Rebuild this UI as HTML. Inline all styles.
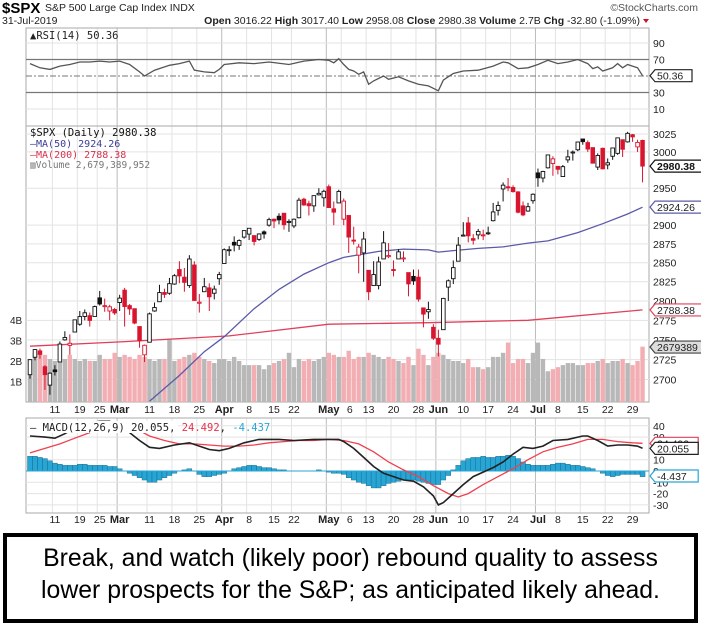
<!DOCTYPE html>
<html><head><meta charset="utf-8"><style>
body{margin:0;background:#fff;width:701px;height:619px;overflow:hidden;font-family:"Liberation Sans",sans-serif}
svg{position:absolute;left:0;top:0}
#note{position:absolute;left:3px;top:533px;width:687px;height:76px;border:4px solid #000;font-size:24.8px;line-height:32px;text-align:center;padding-top:6px;box-sizing:content-box;color:#000}
</style></head><body>
<svg id="chart" width="701" height="619"></svg>
<div id="note">Break, and watch (likely poor) rebound quality to assess<br>lower prospects for the S&amp;P; as anticipated likely ahead.</div>
<script>
const closes=[2724.9,2737.7,2731.6,2706.1,2707.9,2709.8,2744.7,2753.0,2745.7,2775.6,2779.8,2784.7,2774.9,2792.7,2796.1,2793.9,2792.4,2784.5,
2803.7,2792.8,2789.7,2771.5,2748.9,2743.1,2783.3,2791.5,2810.9,2808.5,2822.5,2832.9,2832.6,2824.2,2854.9,2800.7,2798.4,2818.5,2805.4,2815.4,2834.4,
2867.2,2867.2,2873.4,2879.4,2892.7,2895.8,2878.2,2888.2,2888.3,2907.4,2905.6,2907.1,2900.5,2905.0,2908.0,2933.7,2927.3,2926.2,2939.9,2943.0,2945.8,
2923.7,2917.5,2945.6,2932.5,2884.1,2879.4,2870.7,2881.4,2811.9,2834.4,2851.0,2876.3,2859.5,2840.2,2864.4,2856.3,2822.2,2826.1,2802.4,2783.0,2788.9,2752.1,
2744.5,2803.3,2826.2,2843.5,2873.3,2886.7,2885.7,2879.8,2891.6,2887.0,2889.7,2917.8,2926.5,2954.2,2950.5,2945.4,2917.4,2913.8,2924.9,2941.8,
2964.3,2973.0,2995.8,2990.4,2976.0,2979.6,2993.1,2999.9,3013.8,3014.3,3004.0,2984.4,2995.1,2976.6,2985.0,3005.5,3019.6,3003.7,3025.9,3021.0,3013.2,2980.4];
const opens=[2706,2728,2736,2716,2693,2712,2722,2750,2743,2760,2770,2780,2781,2780,2804,2793,2787,2789,
2798,2814,2794,2790,2767,2731,2747,2787,2799,2811,2810,2822,2841,2831,2820,2847,2797,2812,2817,2810,2829,
2849,2867,2877,2873,2884,2888,2886,2881,2891,2900,2908,2912,2916,2904,2899,2910,2935,2929,2926,2941,2937,
2952,2922,2930,2908,2913,2880,2860,2863,2840,2820,2820,2855,2858,2841,2855,2856,2837,2832,2831,2791,2786,2766,
2752,2763,2818,2829,2852,2886,2903,2882,2887,2886,2889,2906,2920,2949,2952,2951,2945,2926,2919,2933,
2971,2964,2978,2984,2980,2966,2989,2999,3003,3018,3013,3006,2979,3005,2982,2994,2998,3017,3014,3024,3007,3016];
const highs=[2725,2738,2739,2718,2709,2718,2748,2761,2757,2775,2787,2789,2785,2794,2813,2803,2795,2791,
2808,2817,2796,2790,2767,2744,2785,2798,2821,2816,2830,2835,2852,2843,2860,2852,2809,2830,2823,2820,2838,
2869,2872,2885,2881,2893,2896,2886,2889,2893,2910,2909,2916,2916,2908,2909,2937,2937,2933,2940,2950,2948,
2955,2932,2948,2936,2913,2898,2875,2891,2840,2852,2858,2892,2876,2853,2868,2865,2837,2841,2841,2791,2799,2770,
2763,2804,2828,2853,2884,2904,2911,2888,2895,2894,2898,2930,2932,2958,2964,2954,2946,2932,2930,2943,
2977,2974,2996,2994,2980,2982,3003,3002,3014,3018,3016,3006,2998,3006,2991,3005,3019,3017,3028,3025,3017,3017];
const lows=[2701,2724,2726,2687,2681,2705,2722,2749,2731,2760,2768,2775,2767,2780,2794,2786,2775,2782,
2787,2767,2782,2770,2740,2722,2747,2786,2799,2804,2808,2821,2823,2812,2817,2800,2785,2812,2787,2802,2821,
2849,2859,2865,2867,2882,2880,2873,2879,2882,2898,2896,2901,2894,2891,2896,2909,2926,2913,2918,2940,2925,
2924,2900,2930,2900,2863,2874,2836,2825,2801,2820,2815,2855,2856,2832,2855,2851,2806,2821,2799,2766,2777,2750,
2729,2763,2800,2822,2852,2885,2877,2874,2881,2880,2887,2905,2913,2932,2946,2944,2916,2912,2918,2929,
2952,2958,2977,2967,2969,2966,2985,2988,3001,3010,3000,2984,2975,2976,2976,2989,2996,2993,3013,3014,3000,2958];
const volumes=[2.1,2.4,2.4,2.3,2.1,2.0,2.1,2.1,2.3,2.1,2.0,2.1,2.0,2.0,2.3,2.1,2.1,2.4,
2.2,2.3,2.2,2.1,2.3,2.2,2.1,2.0,2.1,2.1,3.1,2.0,2.1,2.2,2.3,2.4,2.2,2.1,2.0,1.9,2.1,
2.1,2.0,2.2,2.0,1.8,1.8,1.8,1.8,1.6,1.8,1.9,2.0,2.1,2.4,1.7,2.1,2.0,2.1,2.0,2.1,2.2,
2.4,2.3,2.2,2.2,2.5,2.1,2.2,2.2,2.4,2.3,2.2,2.1,2.2,2.1,2.0,1.9,2.2,1.8,2.6,2.3,1.8,2.2,
2.4,2.3,2.1,2.0,2.0,1.9,2.1,1.7,1.7,1.6,1.7,2.2,2.2,2.4,2.9,1.9,2.1,2.1,1.9,2.4,
2.9,2.1,1.5,1.6,1.7,1.8,1.9,1.9,1.8,1.8,1.9,1.9,2.0,2.1,1.9,2.0,2.0,2.1,1.9,1.8,2.0,2.7];
const ma50Idx=[24,30,35,39,45,50,55,60,63,70,75,80,82,85,90,95,100,104,110,115,120,123];
const ma50Val=[2673,2705,2735,2754,2790,2815,2835,2850,2857,2865,2868,2867,2864,2866,2869,2871,2876,2879,2890,2902,2915,2924.26];
const ma200Idx=[0,20,40,60,80,100,123];
const ma200Val=[2742,2748,2755,2770,2772,2775,2788.38];
const rsiIdx=[0,2,4,6,8,10,12,14,16,18,20,22,23,25,28,30,32,33,35,37,38,39,42,45,48,52,55,58,60,61,62,63,64,65,66,67,68,69,71,72,74,76,78,80,82,83,85,87,90,93,95,96,98,100,102,104,106,108,110,112,113,114,115,117,118,119,120,122,123];
const rsiVal=[65,60,58,62,64,67,67,68,67,68,64,55,50,57,63,65,68,57,55,54,58,64,66,65,67,64,68,70,69,66,71,64,58,56,52,55,40,44,50,46,49,44,40,38,32,45,53,56,57,62,67,66,59,60,64,69,65,67,70,65,59,61,56,60,65,60,64,60,50.36];
const macdIdx=[0,3,5,7,9,11,14,16,18,20,22,24,26,29,32,34,36,38,40,43,46,50,53,57,60,62,63,65,67,69,71,73,75,77,79,81,82,83,85,87,89,91,93,95,97,99,101,103,105,108,111,112,114,116,118,120,122,123];
const macdVal=[31,30,29,33,38,42,44,44,40,34,27,21,20,23,25,22,19,18,20,25,28,28,27,28,28,28,26,20,12,4,-2,-5,-8,-9,-14,-22,-30,-28,-20,-12,-5,-1,3,8,15,21,20,22,27,28,31,31,27,22,23,23,22,20.055];
const sigIdx=[0,3,6,9,12,15,18,21,24,27,30,33,36,39,42,45,48,51,54,57,60,63,66,69,72,75,78,81,84,86,88,91,94,97,100,103,106,109,112,115,118,121,123];
const sigVal=[16,20,24,29,34,38,40,38,31,27,24,24,23,22,22,23,25,26,27,27,28,27,24,17,8,1,-5,-13,-20,-23,-20,-12,-5,2,10,17,21,24,28,28,26,25,24.492];
const histVal=[13,13,12,11,9,7,6,5,5,5,6,6,5,5,5,5,4,4,
2,0,-2,-4,-6,-8,-10,-10,-8,-6,-4,-2,0,1,2,0,-3,-5,-5,-4,-3,
-2,0,2,3,4,5,5,4,3,3,2,1,1,0,0,0,0,0,0,1,0,
-1,-2,-2,-3,-6,-8,-10,-11,-13,-15,-15,-13,-11,-10,-9,-8,-8,-8,-9,-10,-11,-12,
-12,-8,-4,1,5,9,11,12,12,13,12,12,13,13,14,13,11,8,6,5,
5,5,5,6,7,7,6,5,5,4,3,2,0,-2,-4,-5,-4,-3,-3,-3,-3,-5];
const dateLabels=["11","19","25","Mar","11","18","25","Apr","8","15","22","May","6","13","20","28","Jun","10","17","24","Jul","8","15","22","29"];
const dateIdx=[5,10,14,18,24,29,34,39,44,49,53,60,63,68,73,78,82,87,92,97,102,106,111,116,121];
const priceTicks=[3025,3000,2950,2900,2875,2850,2825,2800,2775,2750,2725,2700];
const volTicks=[1,2,3,4];
const rsiTicks=[90,70,30,10];
const macdTicks=[40,30,10,0,-10,-20,-30];

const NS="http://www.w3.org/2000/svg";
const svg=document.getElementById('chart');
function mk(tag,attrs,parent){const e=document.createElementNS(NS,tag);for(const k in attrs)e.setAttribute(k,attrs[k]);(parent||svg).appendChild(e);return e;}
const L=26,R=649;
const X=i=>30+i*4.98;
const PY=p=>134+Math.log(3025/p)*2160;
const VY=v=>402-v*20.5;
const RY=v=>43+(90-v)*0.825;
const MY=v=>471-v*1.13;
const mono='"DejaVu Sans Mono","Liberation Mono",monospace';

function txt(x,y,s,opt,name){const t=mk('text',Object.assign({x:x,y:y,'font-size':10,fill:'#222','font-family':'"Liberation Sans",sans-serif'},opt||{}));t.textContent=s;


return t;}

let t=txt(2,13,'$SPX',{'font-size':15,'font-weight':'bold',fill:'#000'},'ticker-symbol');
t=txt(45,11,'S&P 500 Large Cap Index  INDX',{'font-size':10.5},'index-name');
t=txt(698,11,'©StockCharts.com',{'font-size':10.5,'text-anchor':'end',fill:'#555'},'source-credit');
t=txt(2,24,'31-Jul-2019',{'font-size':10.5},'chart-date');
const hdr=mk('text',{x:640,y:24,'font-size':10.5,'text-anchor':'end',fill:'#222'});


hdr.innerHTML='<tspan font-weight="bold">Open</tspan> 3016.22 <tspan font-weight="bold">High</tspan> 3017.40 <tspan font-weight="bold">Low</tspan> 2958.08 <tspan font-weight="bold">Close</tspan> 2980.38 <tspan font-weight="bold">Volume</tspan> 2.7B <tspan font-weight="bold">Chg</tspan> -32.80 (-1.09%)';
const tri=mk('polygon',{points:'643,19 649,19 646,23',fill:'#d0102a'});



function panel(y0,y1,name){const g=mk('g',{});


dateIdx.forEach((d,k)=>{const big=isNaN(+dateLabels[k]);const ln=mk('line',{x1:X(d)-2.5,x2:X(d)-2.5,y1:y0,y2:y1,stroke:big?'#bbb':'#e3e3e3','stroke-width':1},g);

});
const r=mk('rect',{x:L,y:y0,width:R-L,height:y1-y0,fill:'none',stroke:'#aaa'},g);


return g;}
function hgrid(g,y,col){const ln=mk('line',{x1:L,x2:R,y1:y,y2:y,stroke:col||'#e3e3e3'},g);

}
function poly(g,idx,vals,fy,col,w,name){const p=mk('polyline',{points:idx.map((i,k)=>X(i)+','+fy(vals[k]).toFixed(1)).join(' '),fill:'none',stroke:col,'stroke-width':w||1.3},g);

return p;}
function tag(y,s,col,bg,fg,name,bold){const g=mk('g',{});


const w=s.length*6.2+6;
mk('path',{d:`M${R+1},${y} L${R+6},${y-6} H${R+6+w} V${y+6} H${R+6} Z`,fill:bg||'#fff',stroke:col,'stroke-width':1.2},g);
const tt=mk('text',{x:R+8,y:y+4,'font-size':10.5,fill:fg||'#222','font-weight':bold?'bold':'normal','font-family':'"Liberation Sans",sans-serif'},g);tt.textContent=s;}

const gR=panel(28,126,'rsi-panel');
[90,10].forEach(v=>hgrid(gR,RY(v)));
rsiTicks.forEach(v=>txt(653,RY(v)+4,String(v),{'font-size':10.5},'rsi-tick'));
[70,30].forEach(v=>{const ln=mk('line',{x1:L,x2:R,y1:RY(v),y2:RY(v),stroke:'#777','stroke-width':1.2},gR);

});
const mid=mk('line',{x1:L,x2:R,y1:RY(50),y2:RY(50),stroke:'#777','stroke-dasharray':'6,2,2,2'},gR);


poly(gR,rsiIdx,rsiVal,RY,'#555',1.3,'rsi-line');
txt(30,39,'▲RSI(14) 50.36',{'font-size':10.5,'font-family':mono},'rsi-legend');
tag(RY(50.36),'50.36','#222',null,null,'rsi-value-tag');

const gM=panel(126,402,'price-panel');
priceTicks.forEach(p=>{hgrid(gM,PY(p));txt(653,PY(p)+4,String(p),{'font-size':10.5},'price-tick');});
volumes.forEach((v,i)=>{const down=i>0&&closes[i]<closes[i-1];const b=mk('rect',{x:X(i)-2.2,y:VY(v),width:4.4,height:402-VY(v),fill:down?'#f2aeb2':'#b8b8b8'},gM);

});
volTicks.forEach(v=>txt(10,VY(v)+4,v+'B',{'font-size':10},'volume-tick'));
const clip=mk('clipPath',{id:'mc'});mk('rect',{x:L,y:126,width:R-L,height:276},clip);
poly(gM,ma200Idx,ma200Val,PY,'#e0405a',1.3,'ma200-line').setAttribute('clip-path','url(#mc)');
poly(gM,ma50Idx,ma50Val,PY,'#5a5aa8',1.3,'ma50-line').setAttribute('clip-path','url(#mc)');
closes.forEach((c,i)=>{const o=opens[i];const down=i>0&&c<closes[i-1];const col=down?'#d9152e':'#111';
const g=mk('g',{},gM);


mk('line',{x1:X(i),x2:X(i),y1:PY(highs[i]),y2:PY(lows[i]),stroke:col,'stroke-width':1},g);
const top=PY(Math.max(o,c)),bot=PY(Math.min(o,c));
mk('rect',{x:X(i)-1.8,y:top,width:3.6,height:Math.max(1,bot-top),fill:c<o?col:'#fff',stroke:col,'stroke-width':0.9},g);});
txt(30,136,'$SPX (Daily) 2980.38',{'font-size':10.5,'font-family':mono,fill:'#111'},'price-legend');
txt(30,147,'—MA(50) 2924.26',{'font-size':10,'font-family':mono,fill:'#3b3b9a'},'ma50-legend');
txt(30,158,'—MA(200) 2788.38',{'font-size':10,'font-family':mono,fill:'#d8304f'},'ma200-legend');
txt(30,168,'▥Volume 2,679,389,952',{'font-size':9.5,'font-family':mono,fill:'#777'},'volume-legend');
tag(PY(2980.38),'2980.38','#111',null,'#111','close-price-tag',true);
tag(PY(2924.26),'2924.26','#5a5aa8',null,null,'ma50-tag');
tag(PY(2788.38),'2788.38','#e0405a',null,null,'ma200-tag');
tag(VY(2.68),'2679389','#444','#ddd',null,'volume-tag');

function dates(y,name){dateIdx.forEach((d,k)=>{const s=dateLabels[k];const big=isNaN(+s);txt(X(d)+(s==='6'?6:0),y,s,{'font-size':big?11:10.5,'font-weight':big?'bold':'normal','text-anchor':'middle',fill:'#222'},name);});}
dates(413,'date-label');

const gD=panel(418,513,'macd-panel');
macdTicks.forEach(v=>{hgrid(gD,MY(v));txt(653,MY(v)+4,String(v),{'font-size':10.5},'macd-tick');});
histVal.forEach((v,i)=>{const b=mk('rect',{x:X(i)-2.5,y:Math.min(MY(v),MY(0)),width:5,height:Math.abs(MY(v)-MY(0)),fill:'#27a6d6',stroke:'#17607e','stroke-width':0.4},gD);

});
const z=mk('line',{x1:L,x2:R,y1:MY(0),y2:MY(0),stroke:'#27a6d6'},gD);


const clip2=mk('clipPath',{id:'dc'});mk('rect',{x:L,y:418,width:R-L,height:95},clip2);
poly(gD,sigIdx,sigVal,MY,'#f04050',1.3,'macd-signal-line').setAttribute('clip-path','url(#dc)');
poly(gD,macdIdx,macdVal,MY,'#222',1.6,'macd-line').setAttribute('clip-path','url(#dc)');
const ml=mk('rect',{x:28,y:421,width:150,height:12,fill:'#fff'},gD);


const mt=mk('text',{x:30,y:431,'font-size':10.5,'font-family':mono,fill:'#222'});


mt.innerHTML='— MACD(12,26,9) 20.055, <tspan fill="#e8304a">24.492</tspan>, <tspan fill="#27a6d6">-4.437</tspan>';
tag(MY(24.492),'24.492','#e0405a',null,null,'signal-tag');
tag(MY(20.055),'20.055','#222',null,null,'macd-tag');
tag(MY(-4.437),'-4.437','#27a6d6',null,null,'histogram-tag');
dates(523,'macd-date-label');
</script>
</body></html>
